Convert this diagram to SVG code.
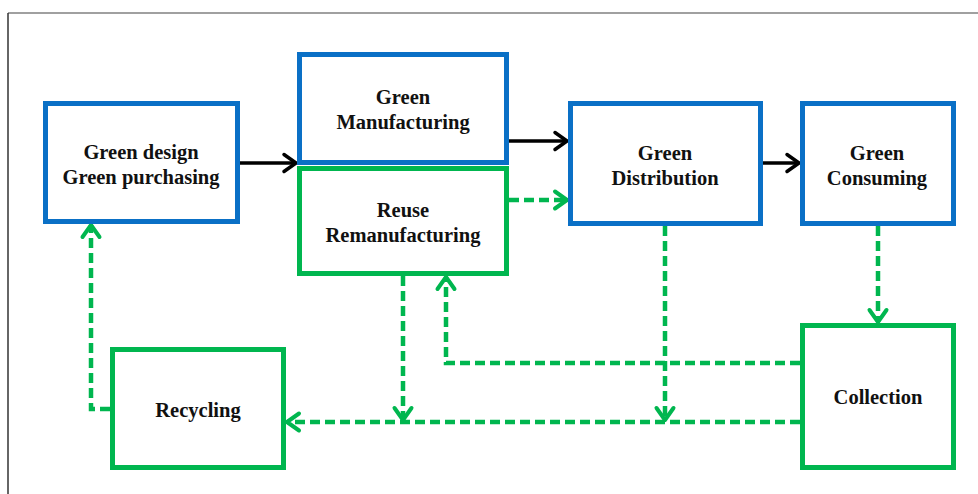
<svg xmlns="http://www.w3.org/2000/svg" width="978" height="494" viewBox="0 0 978 494">
<style>
.bg{fill:#ffffff}
.blue{fill:#ffffff;stroke:#0A70C6;stroke-width:5}
.green{fill:#ffffff;stroke:#00B64F;stroke-width:5}
.t{font-family:"Liberation Serif","Times New Roman",serif;font-weight:bold;font-size:20.5px;fill:#111;text-anchor:middle}
.solid{fill:none;stroke:#000;stroke-width:3.5}
.dash{fill:none;stroke:#00B64F;stroke-width:4.5;stroke-dasharray:10 5}
</style>
<defs>
<marker id="ab" markerUnits="userSpaceOnUse" markerWidth="20" markerHeight="24" refX="15" refY="10" orient="auto" viewBox="0 0 20 20">
<path d="M3,1.5 L15,10 L3,18.5" fill="none" stroke="#000" stroke-width="3.5" stroke-linecap="round" stroke-linejoin="round"/>
</marker>
<marker id="ag" markerUnits="userSpaceOnUse" markerWidth="20" markerHeight="24" refX="15" refY="10" orient="auto" viewBox="0 0 20 20">
<path d="M3,1.5 L15,10 L3,18.5" fill="none" stroke="#00B64F" stroke-width="4" stroke-linecap="round" stroke-linejoin="round"/>
</marker>
</defs>
<rect class="bg" x="0" y="0" width="978" height="494"/>
<line x1="8" y1="13" x2="978" y2="13" stroke="#808080" stroke-width="1.5"/>
<line x1="8" y1="13" x2="8" y2="494" stroke="#333" stroke-width="1.5"/>

<g id="connectors">
<path class="solid" d="M240,163 H296" marker-end="url(#ab)"/>
<path class="solid" d="M509,141 H567" marker-end="url(#ab)"/>
<path class="solid" d="M763,163 H799" marker-end="url(#ab)"/>
<path class="dash" d="M509,200 H567" marker-end="url(#ag)"/>
<path class="dash" d="M878,226 V322" marker-end="url(#ag)"/>
<path class="dash" d="M800,363 H446 V277" marker-end="url(#ag)"/>
<path class="dash" d="M403,276 V420" marker-end="url(#ag)"/>
<path class="dash" d="M665,226 V420" marker-end="url(#ag)"/>
<path class="dash" d="M800,422 H287" marker-end="url(#ag)"/>
<path class="dash" d="M110,409 H91 V225" marker-end="url(#ag)"/>
</g>

<g id="design">
<rect class="blue" x="45.5" y="103.5" width="192" height="118"/>
<text class="t" x="141" y="159">Green design</text>
<text class="t" x="141" y="184">Green purchasing</text>
</g>
<g id="manufacturing">
<rect class="blue" x="299.5" y="54.5" width="207" height="108"/>
<text class="t" x="403" y="104">Green</text>
<text class="t" x="403" y="129">Manufacturing</text>
</g>
<g id="reuse">
<rect class="green" x="299.5" y="168.5" width="207" height="105"/>
<text class="t" x="403" y="217">Reuse</text>
<text class="t" x="403" y="242">Remanufacturing</text>
</g>
<g id="distribution">
<rect class="blue" x="570.5" y="103.5" width="190" height="120"/>
<text class="t" x="665" y="160">Green</text>
<text class="t" x="665" y="185">Distribution</text>
</g>
<g id="consuming">
<rect class="blue" x="802.5" y="103.5" width="151" height="120"/>
<text class="t" x="877" y="160">Green</text>
<text class="t" x="877" y="185">Consuming</text>
</g>
<g id="collection">
<rect class="green" x="802.5" y="325.5" width="151" height="142"/>
<text class="t" x="878" y="404">Collection</text>
</g>
<g id="recycling">
<rect class="green" x="112.5" y="349.5" width="171" height="118"/>
<text class="t" x="198" y="417">Recycling</text>
</g>
</svg>
